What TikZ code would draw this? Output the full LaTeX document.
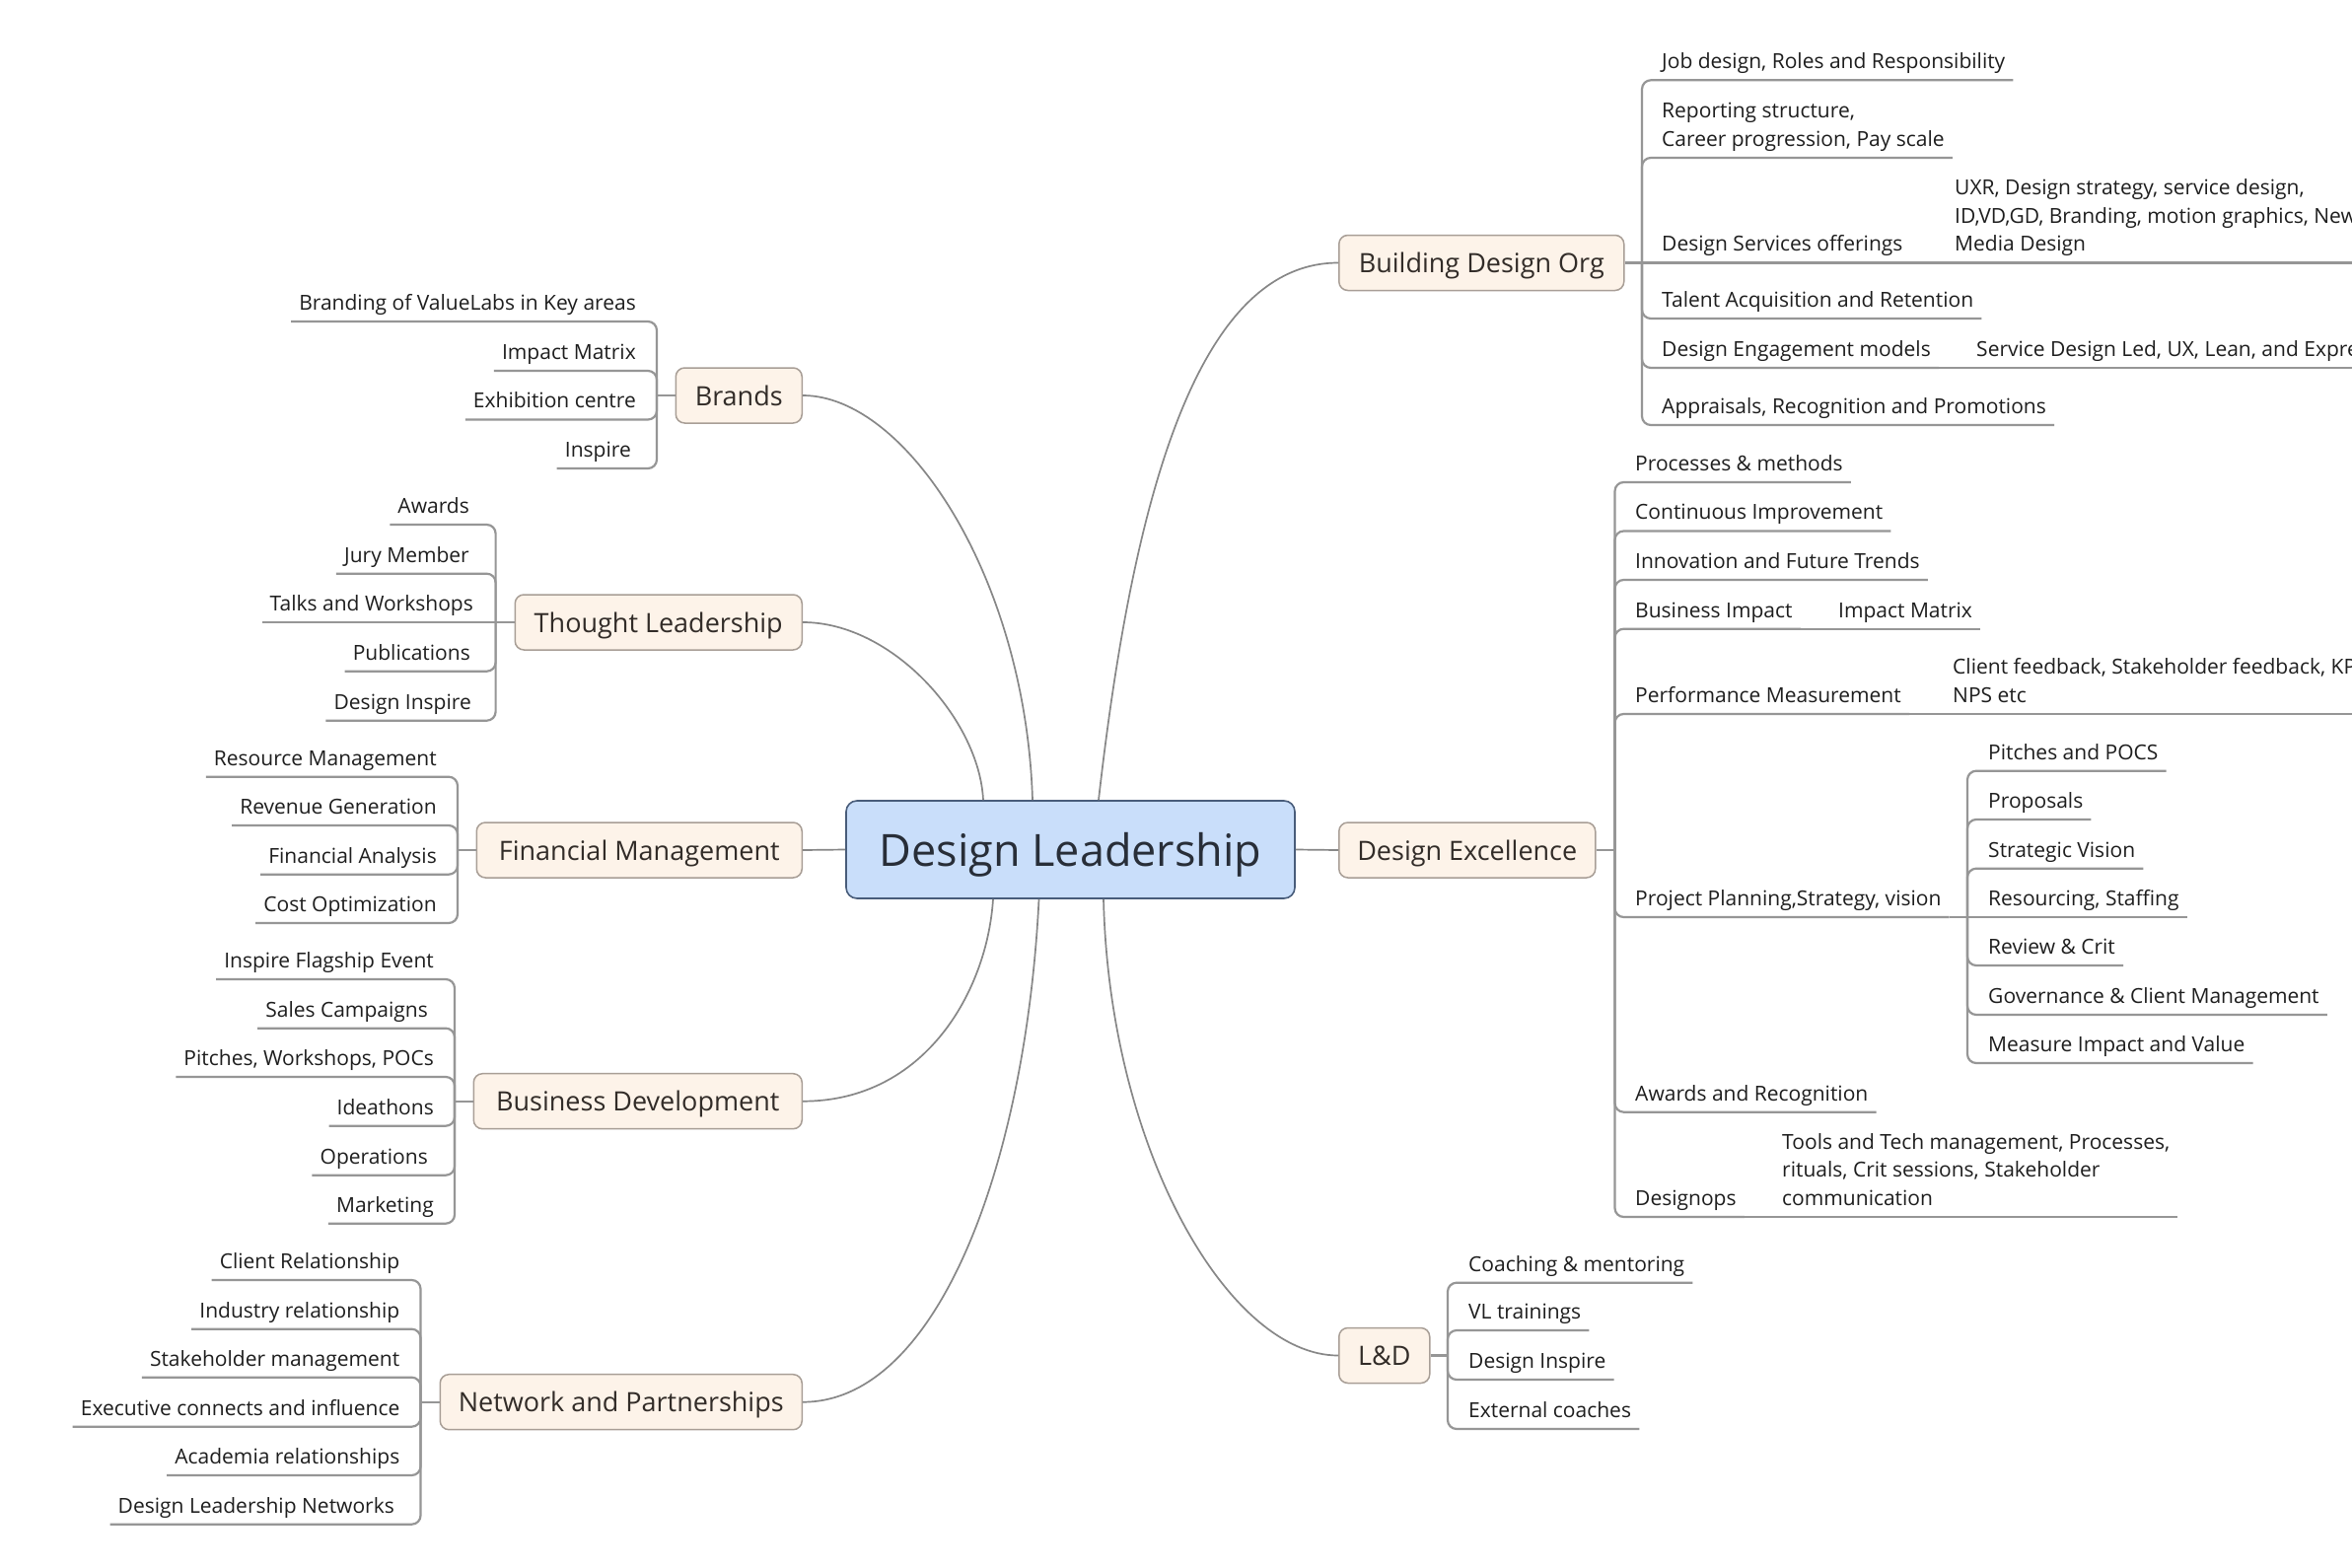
\documentclass[tikz,border=0pt]{standalone}
\usepackage{fontspec}
\setmainfont{Open Sans}
\definecolor{tfill}{RGB}{253,243,233}
\definecolor{tborder}{RGB}{168,158,150}
\definecolor{cfill}{RGB}{201,222,250}
\definecolor{cborder}{RGB}{72,92,122}
\definecolor{linec}{RGB}{150,150,150}
\definecolor{curvec}{RGB}{135,135,135}
\definecolor{leafc}{RGB}{30,30,30}
\definecolor{topicc}{RGB}{50,44,40}
\definecolor{centc}{RGB}{40,46,56}
\newcommand\leaffont{\fontsize{21}{28.5}\selectfont}
\newcommand\topicfont{\fontsize{27}{32}\selectfont}
\newcommand\centralfont{\fontsize{45}{50}\selectfont}
\tikzset{
  leafR/.style={anchor=south west, inner xsep=8pt, inner ysep=8pt, text depth=3.5pt, font=\leaffont, align=left, text=leafc},
  leafL/.style={anchor=south east, inner xsep=8pt, inner ysep=8pt, text depth=3.5pt, font=\leaffont, align=right, text=leafc},
  topic/.style={draw=tborder, fill=tfill, rounded corners=9pt, line width=1.5pt, minimum height=56pt, font=\topicfont, text=topicc, inner xsep=10pt, inner ysep=2pt, text height=26.5pt, text depth=6.5pt},
  central/.style={draw=cborder, fill=cfill, rounded corners=11pt, line width=1.6pt, minimum width=455pt, minimum height=99pt, font=\centralfont, text=centc, text height=45.4pt, text depth=10.6pt},
  conn/.style={draw=linec, line width=2.2pt, rounded corners=9pt},
  curve/.style={draw=curvec, line width=1.7pt},
}
\begin{document}
\begin{tikzpicture}[x=1pt,y=-1pt]
\useasboundingbox (0,0) rectangle (2385,1590);
\clip (0,0) rectangle (2385,1590);
\fill[white] (0,0) rectangle (2385,1590);

% central
\node[central] (dl) at (1085.5,861.5) {Design Leadership};

% main topics
\node[topic, anchor=west, minimum width=289pt] (bdo) at (1357,266.5) {Building Design Org};
\node[topic, anchor=west, minimum width=260pt] (de) at (1357,862) {Design Excellence};
\node[topic, anchor=west, minimum width=92pt] (ld) at (1357,1374.5) {L\&D};
\node[topic, anchor=east, minimum width=128pt] (brands) at (814,401) {Brands};
\node[topic, anchor=east, minimum width=291pt] (tl) at (814,631) {Thought Leadership};
\node[topic, anchor=east, minimum width=330pt] (fm) at (814,862) {Financial Management};
\node[topic, anchor=east, minimum width=333pt] (bd) at (814,1116.7) {Business Development};
\node[topic, anchor=east, minimum width=367pt] (np) at (814,1421.7) {Network and Partnerships};

% curves from the centre
\draw[curve] ([xshift=28.5pt]dl.north) .. controls (1148,512) and (1212,266.5) .. (bdo.west);
\draw[curve] ([xshift=-38.5pt]dl.north) .. controls (1040,586) and (919,401) .. (brands.east);
\draw[curve] ([xshift=-88.5pt]dl.north) .. controls (993,730) and (905,631) .. (tl.east);
\draw[curve] (dl.west) -- (fm.east);
\draw[curve] (dl.east) -- (de.west);
\draw[curve] ([xshift=-78.5pt]dl.south) .. controls (1001,1005) and (938,1116.7) .. (bd.east);
\draw[curve] ([xshift=-32pt]dl.south) .. controls (1040,1180) and (951,1421.7) .. (np.east);
\draw[curve] ([xshift=33.5pt]dl.south) .. controls (1125,1166) and (1246,1374.5) .. (ld.west);

% bracket points
\coordinate (bdoB) at (1665,266.5);
\coordinate (deB) at (1637.5,862);
\coordinate (ldB) at (1468,1374.5);
\coordinate (ppB) at (1995,930);
\coordinate (brB) at (666,401);
\coordinate (tlB) at (502.6,631);
\coordinate (fmB) at (464,862);
\coordinate (bdB) at (461,1116.7);
\coordinate (npB) at (426.5,1421.7);

% Building Design Org
\node[leafR] (b1) at (1677,81.3) {Job design, Roles and Responsibility};
\node[leafR] (b2) at (1677,160) {Reporting structure,\\Career progression, Pay scale};
\node[leafR] (b3) at (1677,266.5) {Design Services offerings};
\node[leafR] (b3a) at (1974,266.5) {UXR, Design strategy, service design,\\ID,VD,GD, Branding, motion graphics, New\\Media Design};
\node[leafR] (b4) at (1677,323) {Talent Acquisition and Retention};
\node[leafR] (b5) at (1677,373) {Design Engagement models};
\node[leafR] (b5a) at (1996,373) {Service Design Led, UX, Lean, and Express};
\node[leafR] (b6) at (1677,431) {Appraisals, Recognition and Promotions};
\draw[conn] (bdo.east) -- (bdoB);
\foreach \n in {b1,b2,b4,b5,b6} \draw[conn] (bdoB) |- (\n.south east);
\draw[conn] (bdoB) -- (b3.south east);
\draw[conn] (b3.south east) -- (b3a.south east);
\draw[conn] (b5.south east) -- (b5a.south east);

% Design Excellence
\node[leafR] (d1) at (1650,489) {Processes \& methods};
\node[leafR] (d2) at (1650,538.5) {Continuous Improvement};
\node[leafR] (d3) at (1650,588) {Innovation and Future Trends};
\node[leafR] (d4) at (1650,637.7) {Business Impact};
\node[leafR] (d4a) at (1856,637.7) {Impact Matrix};
\node[leafR] (d5) at (1650,724) {Performance Measurement};
\node[leafR] (d5a) at (1972,724) {Client feedback, Stakeholder feedback, KPIs,\\NPS etc};
\node[leafR] (d6) at (1650,930) {Project Planning,Strategy, vision};
\node[leafR] (d7) at (1650,1127.7) {Awards and Recognition};
\node[leafR] (d8) at (1650,1234) {Designops};
\node[leafR] (d8a) at (1799,1234) {Tools and Tech management, Processes,\\rituals, Crit sessions, Stakeholder\\communication};
\draw[conn] (de.east) -- (deB);
\foreach \n in {d1,d2,d3,d4,d5,d6,d7,d8} \draw[conn] (deB) |- (\n.south east);
\draw[conn] (d4.south east) -- (d4a.south east);
\draw[conn] (d5.south east) -- (d5a.south east);
\draw[conn] (d8.south east) -- (d8a.south east);

% Project planning children
\node[leafR] (p1) at (2008,781.7) {Pitches and POCS};
\node[leafR] (p2) at (2008,831) {Proposals};
\node[leafR] (p3) at (2008,880.7) {Strategic Vision};
\node[leafR] (p4) at (2008,930) {Resourcing, Staffing};
\node[leafR] (p5) at (2008,979) {Review \& Crit};
\node[leafR] (p6) at (2008,1029) {Governance \& Client Management};
\node[leafR] (p7) at (2008,1078) {Measure Impact and Value};
\draw[conn] (d6.south east) -- (ppB);
\foreach \n in {p1,p2,p3,p5,p6,p7} \draw[conn] (ppB) |- (\n.south east);
\draw[conn] (ppB) -- (p4.south east);

% L&D
\node[leafR] (l1) at (1481,1300.7) {Coaching \& mentoring};
\node[leafR] (l2) at (1481,1349) {VL trainings};
\node[leafR] (l3) at (1481,1399) {Design Inspire};
\node[leafR] (l4) at (1481,1449) {External coaches};
\draw[conn] (ld.east) -- (ldB);
\foreach \n in {l1,l2,l3,l4} \draw[conn] (ldB) |- (\n.south east);

% Brands
\node[leafL] (r1) at (653,326) {Branding of ValueLabs in Key areas};
\node[leafL] (r2) at (653,376) {Impact Matrix};
\node[leafL] (r3) at (653,425.5) {Exhibition centre};
\node[leafL] (r4) at (648,475) {Inspire};
\draw[conn] (brands.west) -- (brB);
\foreach \n in {r1,r2,r3,r4} \draw[conn] (brB) |- (\n.south west);

% Thought Leadership
\node[leafL] (t1) at (484,532) {Awards};
\node[leafL] (t2) at (484,581.7) {Jury Member};
\node[leafL] (t3) at (488,631) {Talks and Workshops};
\node[leafL] (t4) at (485,680.7) {Publications};
\node[leafL] (t5) at (486,730.7) {Design Inspire};
\draw[conn] (tl.west) -- (tlB);
\foreach \n in {t1,t2,t4,t5} \draw[conn] (tlB) |- (\n.south west);
\draw[conn] (tlB) -- (t3.south west);

% Financial Management
\node[leafL] (f1) at (451,787.7) {Resource Management};
\node[leafL] (f2) at (451,837) {Revenue Generation};
\node[leafL] (f3) at (451,886.7) {Financial Analysis};
\node[leafL] (f4) at (451,936) {Cost Optimization};
\draw[conn] (fm.west) -- (fmB);
\foreach \n in {f1,f2,f3,f4} \draw[conn] (fmB) |- (\n.south west);

% Business Development
\node[leafL] (e1) at (448,993) {Inspire Flagship Event};
\node[leafL] (e2) at (442,1042.7) {Sales Campaigns};
\node[leafL] (e3) at (448,1092) {Pitches, Workshops, POCs};
\node[leafL] (e4) at (448,1141.7) {Ideathons};
\node[leafL] (e5) at (442,1191.7) {Operations};
\node[leafL] (e6) at (448,1240.7) {Marketing};
\draw[conn] (bd.west) -- (bdB);
\foreach \n in {e1,e2,e3,e4,e5,e6} \draw[conn] (bdB) |- (\n.south west);

% Network and Partnerships
\node[leafL] (n1) at (413.5,1298) {Client Relationship};
\node[leafL] (n2) at (413.5,1347.7) {Industry relationship};
\node[leafL] (n3) at (413.5,1396.7) {Stakeholder management};
\node[leafL] (n4) at (413.5,1446.7) {Executive connects and influence};
\node[leafL] (n5) at (413.5,1496) {Academia relationships};
\node[leafL] (n6) at (408,1545.7) {Design Leadership Networks};
\draw[conn] (np.west) -- (npB);
\foreach \n in {n1,n2,n3,n4,n5,n6} \draw[conn] (npB) |- (\n.south west);
\end{tikzpicture}
\end{document}
